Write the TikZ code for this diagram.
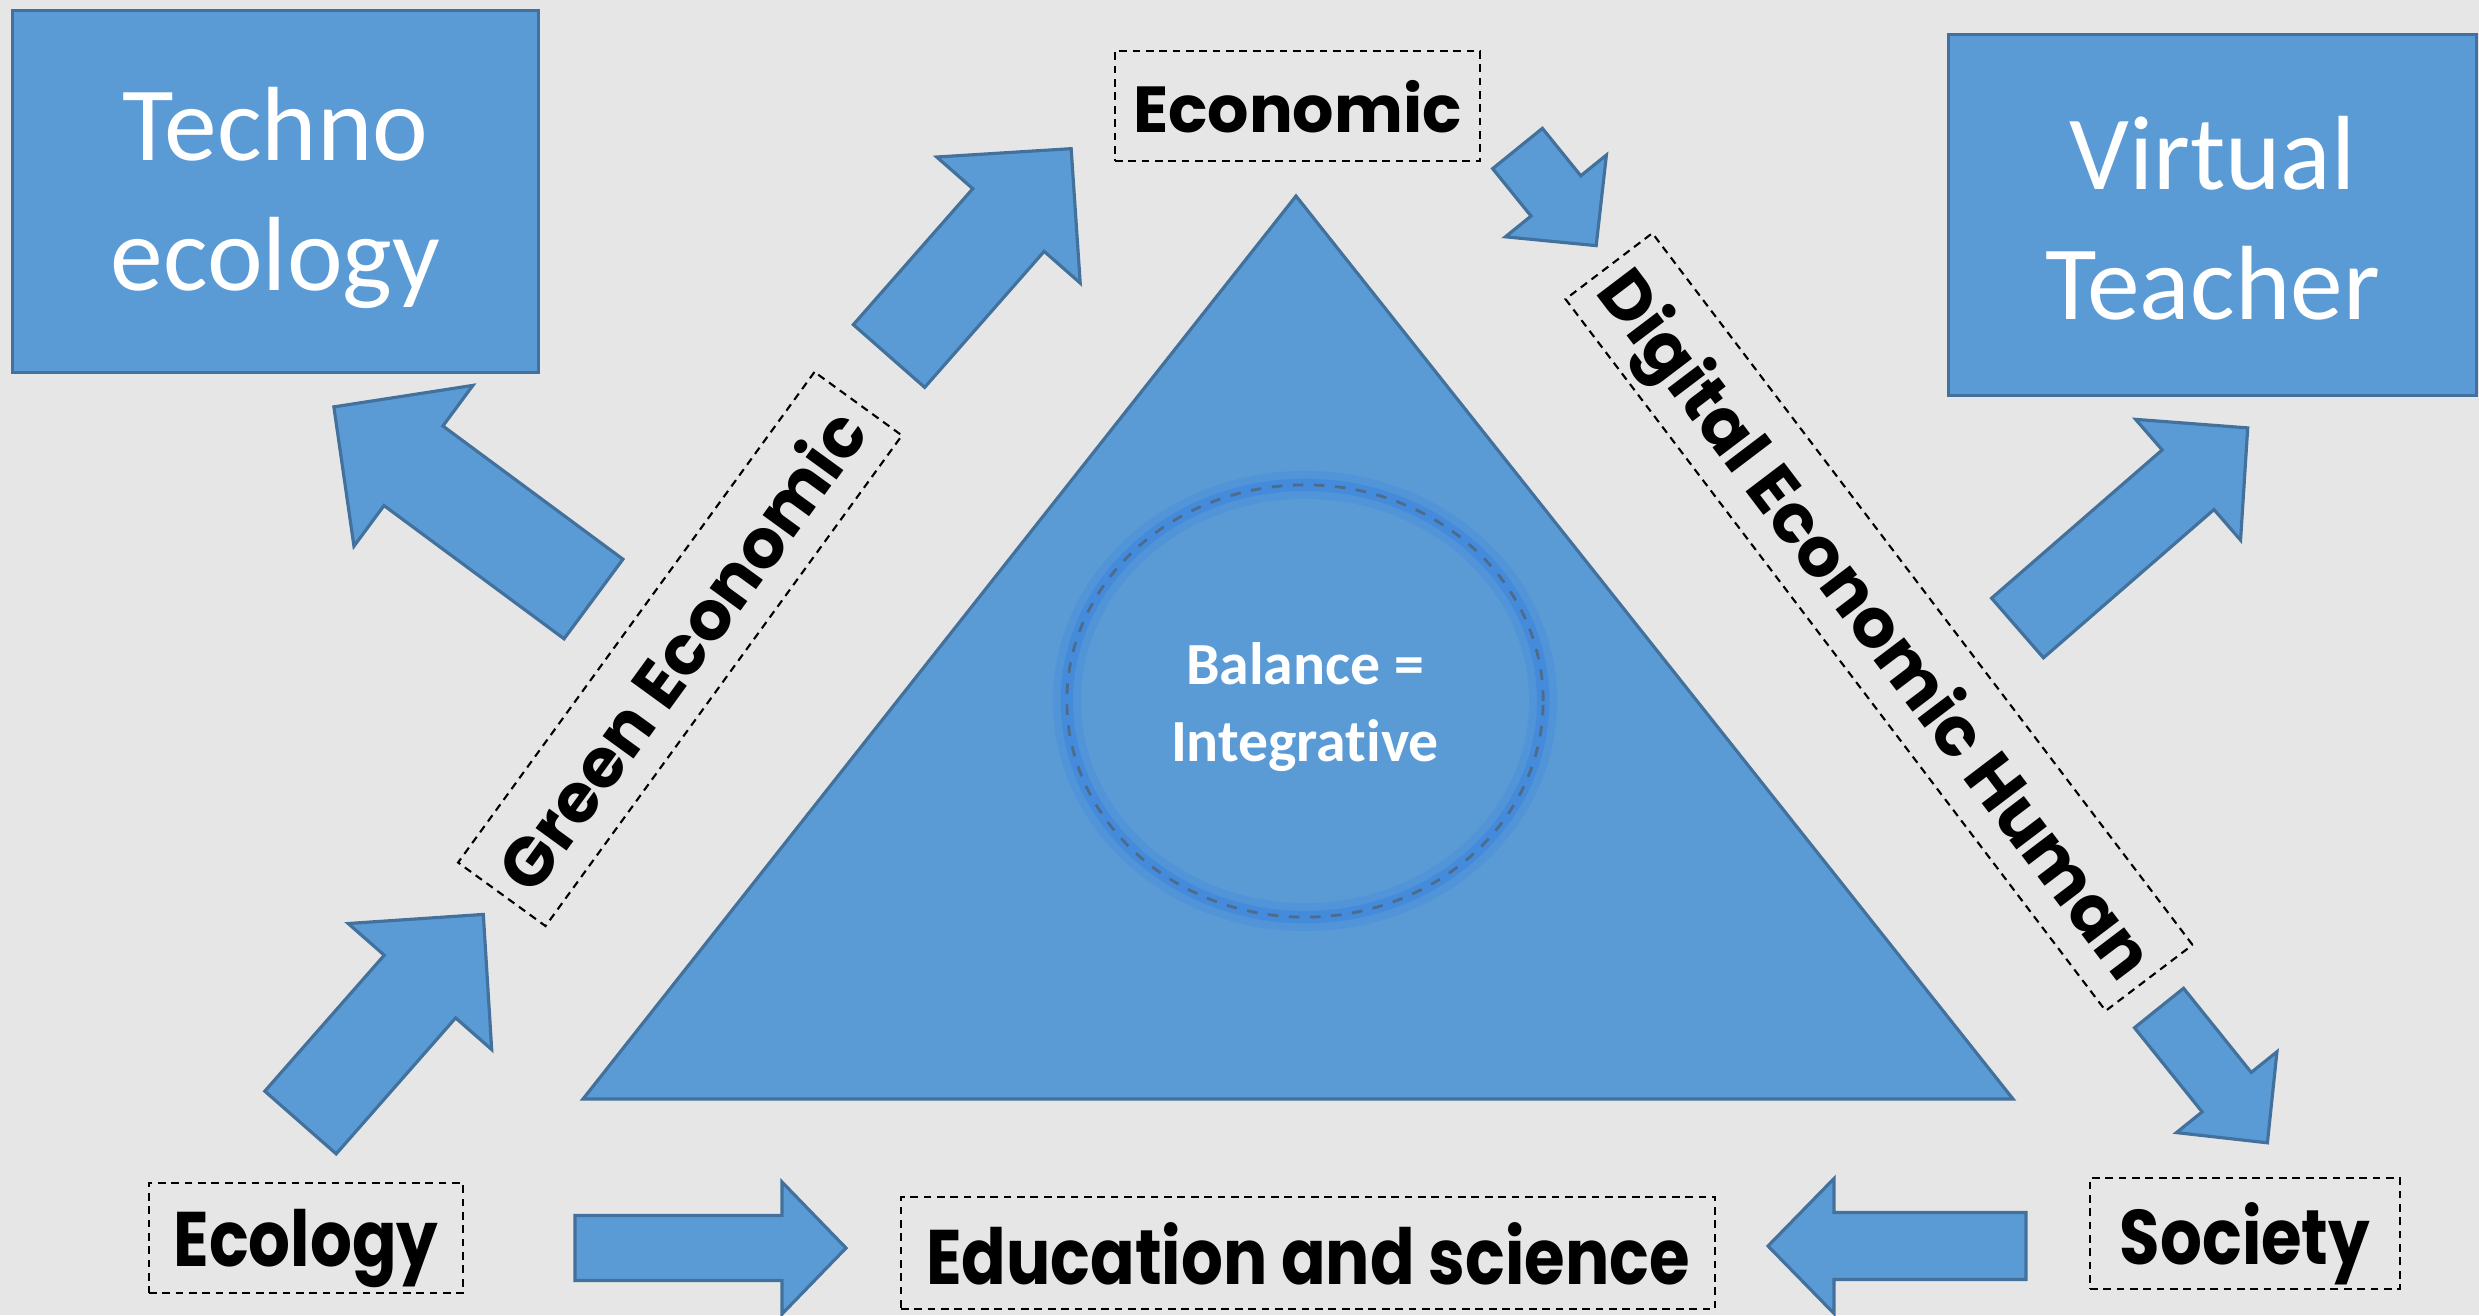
\documentclass[tikz,border=0pt]{standalone}
\usepackage{fontspec}
\setmainfont{Carlito}[Ligatures=NoCommon]
\newfontfamily\widefont{Poppins}
\newfontfamily\narrowfont{Poppins}[FakeStretch=0.85]
\usetikzlibrary{shapes.geometric}

\definecolor{bggray}{HTML}{E7E6E6}
\definecolor{shapeblue}{HTML}{5B9BD5}
\definecolor{edgeblue}{HTML}{41719C}
\definecolor{glowblue}{HTML}{3D85E0}
\definecolor{dashgray}{HTML}{4D6B8A}

\tikzset{
    bluefill/.style={fill=shapeblue, draw=edgeblue, line width=0.9pt, line join=miter},
    bluebox/.style={bluefill, text=white, align=center, inner sep=0pt, font=\fontsize{30}{37}\selectfont},
    labelbox/.style={draw=black, dashed, dash pattern=on 2.2pt off 1.6pt, line width=0.6pt, inner sep=0pt, text depth=0pt, font=\widefont\bfseries\fontsize{18.5}{22}\selectfont},
    flatbox/.style={labelbox, font=\narrowfont\bfseries\fontsize{22}{26}\selectfont},
}

\def\blockarrow#1#2#3#4#5#6{ % #1 Tail, #2 Angle, #3 Length, #4 Shaft, #5 Head width, #6 Head length
    \draw[bluefill, shift={(#1)}, rotate=#2] (0,-#4/2) -- (#3-#6,-#4/2) -- (#3-#6,-#5/2) -- (#3,0) -- (#3-#6,#5/2) -- (#3-#6,#4/2) -- (0,#4/2) -- cycle;
}

\begin{document}
\begin{tikzpicture}[x=0.01cm, y={(0,-0.01cm)}]
        \useasboundingbox (0,0) rectangle (2479,1315);
        \fill[bggray] (0,0) rectangle (2479,1315); %background

        % boxes
        \node[bluebox, minimum width=5.25cm, minimum height=3.61cm] (techno) at (275.5,191.5) {};
        \node[text=white, align=center, font=\fontsize{30}{37}\selectfont] (technotext) at (275.5,198) {Techno\\ecology};
        \node[bluebox, minimum width=5.27cm, minimum height=3.60cm] (virtual) at (2212.5,215) {};
        \node[text=white, align=center, font=\fontsize{30}{37}\selectfont] (virtualtext) at (2212.5,218) {Virtual\\Teacher};

        % triangle
        \draw[bluefill] (1296,196) -- (583,1099) -- (2013,1099) -- cycle;

        % balance
        \node[ellipse, draw=glowblue, line width=8pt, opacity=0.3, minimum width=4.76cm, minimum height=4.32cm] (glow) at (1305,701) {};
        \node[ellipse, draw=glowblue, line width=3.5pt, opacity=0.6, minimum width=4.76cm, minimum height=4.32cm] (glowin) at (1305,701) {};
        \node[ellipse, draw=dashgray, dashed, line width=0.8pt, minimum width=4.76cm, minimum height=4.32cm] (balance) at (1305,701) {};
        \node[text=white, align=center, font=\bfseries\fontsize{17}{22}\selectfont] (balancetext) at (1305,707) {Balance =\\Integrative};

        % labels
        \node[labelbox, minimum width=3.65cm, minimum height=1.10cm] (economic) at (1297.5,106) {Economic};
        \node[labelbox, rotate=54, minimum width=6.06cm, minimum height=1.08cm, font=\widefont\bfseries\fontsize{19.5}{22}\selectfont] (green) at (680,649) {Green Economic};
        \node[labelbox, rotate=-52.8, minimum width=8.93cm, minimum height=1.09cm, font=\widefont\bfseries\fontsize{19.5}{22}\selectfont] (digital) at (1879,622) {Digital Economic Human};
        \node[flatbox, minimum width=3.14cm, minimum height=1.10cm] (ecology) at (306,1238) {Ecology};
        \node[flatbox, minimum width=8.14cm, minimum height=1.12cm] (education) at (1308,1253) {Education and science};
        \node[flatbox, minimum width=3.10cm, minimum height=1.11cm] (society) at (2245,1233.5) {Society};

        % arrows
        \blockarrow{575,1248}{0}{271}{65}{132}{64} %ecology to education
        \blockarrow{2026,1246}{180}{258}{67}{135}{66} %society to education
        \blockarrow{300.5,1122.5}{48.7}{277}{95}{191}{96} %ecology to green
        \blockarrow{889,356}{48.7}{276}{95}{191}{95} %green to economic
        \blockarrow{593.5,599}{143.5}{323}{99}{200}{99} %green to techno
        \blockarrow{1517.5,148.5}{-51}{125}{64}{130}{64} %economic to digital
        \blockarrow{2017.5,628}{41}{305}{79}{160}{79} %digital to virtual
        \blockarrow{2159,1008}{-51.2}{173}{63}{129}{65} %digital to society
\end{tikzpicture}
\end{document}
